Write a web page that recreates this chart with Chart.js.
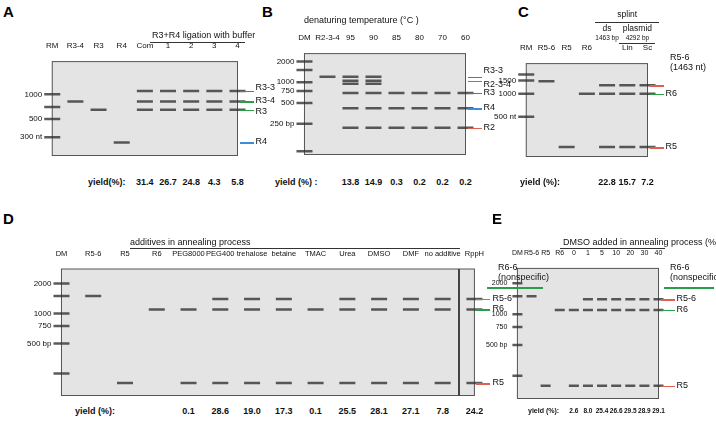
<!DOCTYPE html><html><head><meta charset="utf-8">
<script src="https://cdn.jsdelivr.net/npm/chart.js@4"></script>
<style>
body{margin:0;background:#fff;font-family:Arial,"Liberation Sans",sans-serif;}
#w{position:relative;width:716px;height:428px;}
.p{position:absolute;}
.t{position:absolute;font-size:9px;color:#111;white-space:nowrap;}
.c{position:absolute;font-size:8.5px;color:#111;white-space:nowrap;transform:translateX(-50%);text-align:center;line-height:9px;}
.y{position:absolute;font-size:9px;font-weight:bold;color:#111;white-space:nowrap;transform:translateX(-50%);}
.L{position:absolute;font-size:15px;font-weight:bold;}
.ln{position:absolute;height:1.5px;}
</style></head><body><div id="w"></div>
<script>
// ---- data ----
const lanesA=["RM","R3-4","R3","R4","Com","1","2","3","4"];
const bandsA=[[1000,700,500,300],[820],[650],[260],[1100,820,650],[1100,820,650],[1100,820,650],[1100,820,650],[1100,820,650]];
const yieldA=["31.4","26.7","24.8","4.3","5.8"];
const lanesB=["DM","R2-3-4","95","90","85","80","70","60"];
const bandsB=[[2000,1500,1000,750,500,250,100],[1200],[1200,1050,950,700,420,220],[1200,1050,950,700,420,220],[700,420,220],[700,420,220],[700,420,220],[700,420,220]];
const yieldB=["13.8","14.9","0.3","0.2","0.2","0.2"];
const lanesC=["RM","R5-6","R5","R6","","Lin","Sc"];
const bandsC=[[1800,1500,1000,500],[1463],[200],[1000],[1300,1000,200],[1300,1000,200],[1300,1000,200]];
const yieldC=["22.8","15.7","7.2"];
const lanesD=["DM","R5-6","R5","R6","PEG8000","PEG400","trehalose","betaine","TMAC","Urea","DMSO","DMF","no additive","RppH"];
const bandsD=[[2000,1500,1000,750,500,250],[1500],[200],[1100],[1100,200],[1400,1100,200],[1400,1100,200],[1400,1100,200],[1100,200],[1400,1100,200],[1400,1100,200],[1400,1100,200],[1400,1100,200],[1400,1100,200]];
const yieldD=["0.1","28.6","19.0","17.3","0.1","25.5","28.1","27.1","7.8","24.2"];
const lanesE=["DM","R5-6","R5","R6","0","1","5","10","20","30","40"];
const bandsE=[[2000,1500,1000,750,500,250],[1500],[200],[1100],[1100,200],[1400,1100,200],[1400,1100,200],[1400,1100,200],[1400,1100,200],[1400,1100,200],[1400,1100,200]];
const yieldE=["2.6","8.0","25.4","26.6","29.5","28.9","29.1"];

const W=document.getElementById('w');
function txt(x,y,s,cls,color){const d=document.createElement('div');d.className=cls||'t';d.style.left=x+'px';d.style.top=y+'px';d.innerHTML=s;if(color)d.style.color=color;W.appendChild(d);return d;}
function line(x,y,w,col,h){const d=document.createElement('div');d.className='ln';d.style.left=x+'px';d.style.top=y+'px';d.style.width=w+'px';d.style.background=col;if(h)d.style.height=h+'px';W.appendChild(d);}
const bg={id:'bg',beforeDatasetsDraw(c){const a=c.chartArea,x=c.ctx;x.save();x.fillStyle='#e4e4e4';x.fillRect(a.left,a.top,a.right-a.left,a.bottom-a.top);x.strokeStyle='#555';x.lineWidth=1;x.strokeRect(a.left,a.top,a.right-a.left,a.bottom-a.top);x.restore();}};
function panel(x,y,w,h,lanes,bands,ticks,ymin,ymax,unit,bw,fs,tfs){
 const d=document.createElement('div');d.className='p';d.style.left=x+'px';d.style.top=y+'px';d.style.width=w+'px';d.style.height=h+'px';
 const c=document.createElement('canvas');d.appendChild(c);W.appendChild(d);
 const labs=lanes.map(l=>l===""?"__":l);
 const pts=[];bands.forEach((b,i)=>b.forEach(v=>pts.push({x:labs[i],y:v})));
 const ch=new Chart(c,{type:'line',data:{labels:labs,datasets:[{data:pts,showLine:false,pointStyle:'line',pointRadius:bw,pointBorderWidth:2.5,pointBorderColor:'rgba(50,50,50,0.8)'}]},
 options:{animation:false,responsive:true,maintainAspectRatio:false,plugins:{legend:{display:false},tooltip:{enabled:false}},layout:{padding:0},
 scales:{x:{position:'top',grid:{display:false},border:{display:false},ticks:{font:{size:fs||8},color:'#111',maxRotation:0,autoSkip:false,padding:3,callback:(v,i)=>labs[i]==="__"?"":labs[i]}},
 y:{type:'logarithmic',min:ymin,max:ymax,grid:{display:false},border:{display:false},afterBuildTicks(a){a.ticks=ticks.map(v=>({value:v}));},ticks:{font:{size:tfs||8},color:'#111',padding:2,callback:(v)=>v+(v==ticks[ticks.length-1]&&unit?' '+unit:'')}}}},plugins:[bg]});
 return {ch,x,y};
}
function yields(P,vals,ty,fs){const s=P.ch.scales.x,n=P.ch.data.labels.length;vals.forEach((v,i)=>{const d=txt(P.x+s.getPixelForValue(n-vals.length+i),ty,v,'y');if(fs)d.style.fontSize=fs+'px';});}
function side(P,v,lab,col,dy,len){const lx=P.x+P.ch.chartArea.right+2;const yy=P.y+P.ch.scales.y.getPixelForValue(v);line(lx,yy,len||14,col);if(lab)txt(lx+(len||14)+2,yy-6+(dy||0),lab);}

const A=panel(18,38,230,128,lanesA,bandsA,[1000,500,300],180,2500,'nt',8);
const B=panel(268,30,208,135,lanesB,bandsB,[2000,1000,750,500,250],90,2600,'bp',8);
const C=panel(492,40,166,127,lanesC,bandsC,[1500,1000,500],150,2500,'nt',8);
const D=panel(25,246,462,160,lanesD,bandsD,[2000,1000,750,500],150,2800,'bp',8,7.5);
const E=panel(484,246,182,160,lanesE,bandsE,[2000,1000,750,500],150,2800,'bp',5,7,7);

txt(3,3,'A','L');txt(262,3,'B','L');txt(518,3,'C','L');txt(3,210,'D','L');txt(492,210,'E','L');
txt(152,30,'R3+R4 ligation with buffer');txt(304,15,'denaturing temperature (°C )');
{const s=C.ch.scales.x;const x4=C.x+s.getPixelForValue(4),x5=C.x+s.getPixelForValue(5),x6=C.x+s.getPixelForValue(6);
txt((x4+x6)/2,10,'splint','c');line(x4-12,22,x6-x4+24,'#333',1);
txt(x4,24,'ds<br><span style="font-size:6.5px">1463 bp</span>','c');txt((x5+x6)/2,24,'plasmid<br><span style="font-size:6.5px">4292 bp</span>','c');
line(x5-8,43,x6-x5+16,'#333',1);}
txt(130,237,'additives in annealing process');txt(563,237,'DMSO added in annealing process (%)');
line(130,248,330,'#333',1);line(560,248,105,'#333',1);line(150,42,95,'#333',1);
txt(88,177,'<b>yield(%):</b>');yields(A,yieldA,177);
txt(275,177,'<b>yield (%) :</b>');yields(B,yieldB,177);
txt(520,177,'<b>yield (%):</b>');yields(C,yieldC,177);
txt(75,406,'<b>yield (%):</b>');yields(D,yieldD,406);
txt(528,407,'<b>yield (%):</b>','t').style.fontSize='7px';yields(E,yieldE,407,6.5);
{const s=D.ch.scales.x,a=D.ch.chartArea;const xx=D.x+(s.getPixelForValue(12)+s.getPixelForValue(13))/2;const d=document.createElement('div');d.style.cssText=`position:absolute;left:${xx-1}px;top:${D.y+a.top}px;width:2px;height:${a.bottom-a.top}px;background:#444`;W.appendChild(d);}
side(A,1100,'R3-3','#2a9d4a',-3);side(A,820,'R3-4','#2a9d4a');side(A,650,'R3','#2a9d4a',2);side(A,260,'R4','#3a8fd9');
side(B,1200,'R3-3','#2a9d4a',-6);side(B,1050,'R2-3-4','#3a8fd9',4);side(B,700,'R3','#2a9d4a');side(B,420,'R4','#3a8fd9');side(B,220,'R2','#e06050');
side(C,1300,'','#e06050');txt(670,52,'R5-6<br>(1463 nt)');side(C,1000,'R6','#2a9d4a');side(C,200,'R5','#e06050');
txt(498,262,'R6-6<br>(nonspecific)');line(487,287,56,'#2a9d4a');side(D,1400,'R5-6','#e06050');side(D,1100,'R6','#2a9d4a');side(D,200,'R5','#e06050');
txt(670,262,'R6-6<br>(nonspecific)');line(664,287,50,'#2a9d4a');side(E,1400,'R5-6','#e06050');side(E,1100,'R6','#2a9d4a');side(E,200,'R5','#e06050');
</script></body></html>
